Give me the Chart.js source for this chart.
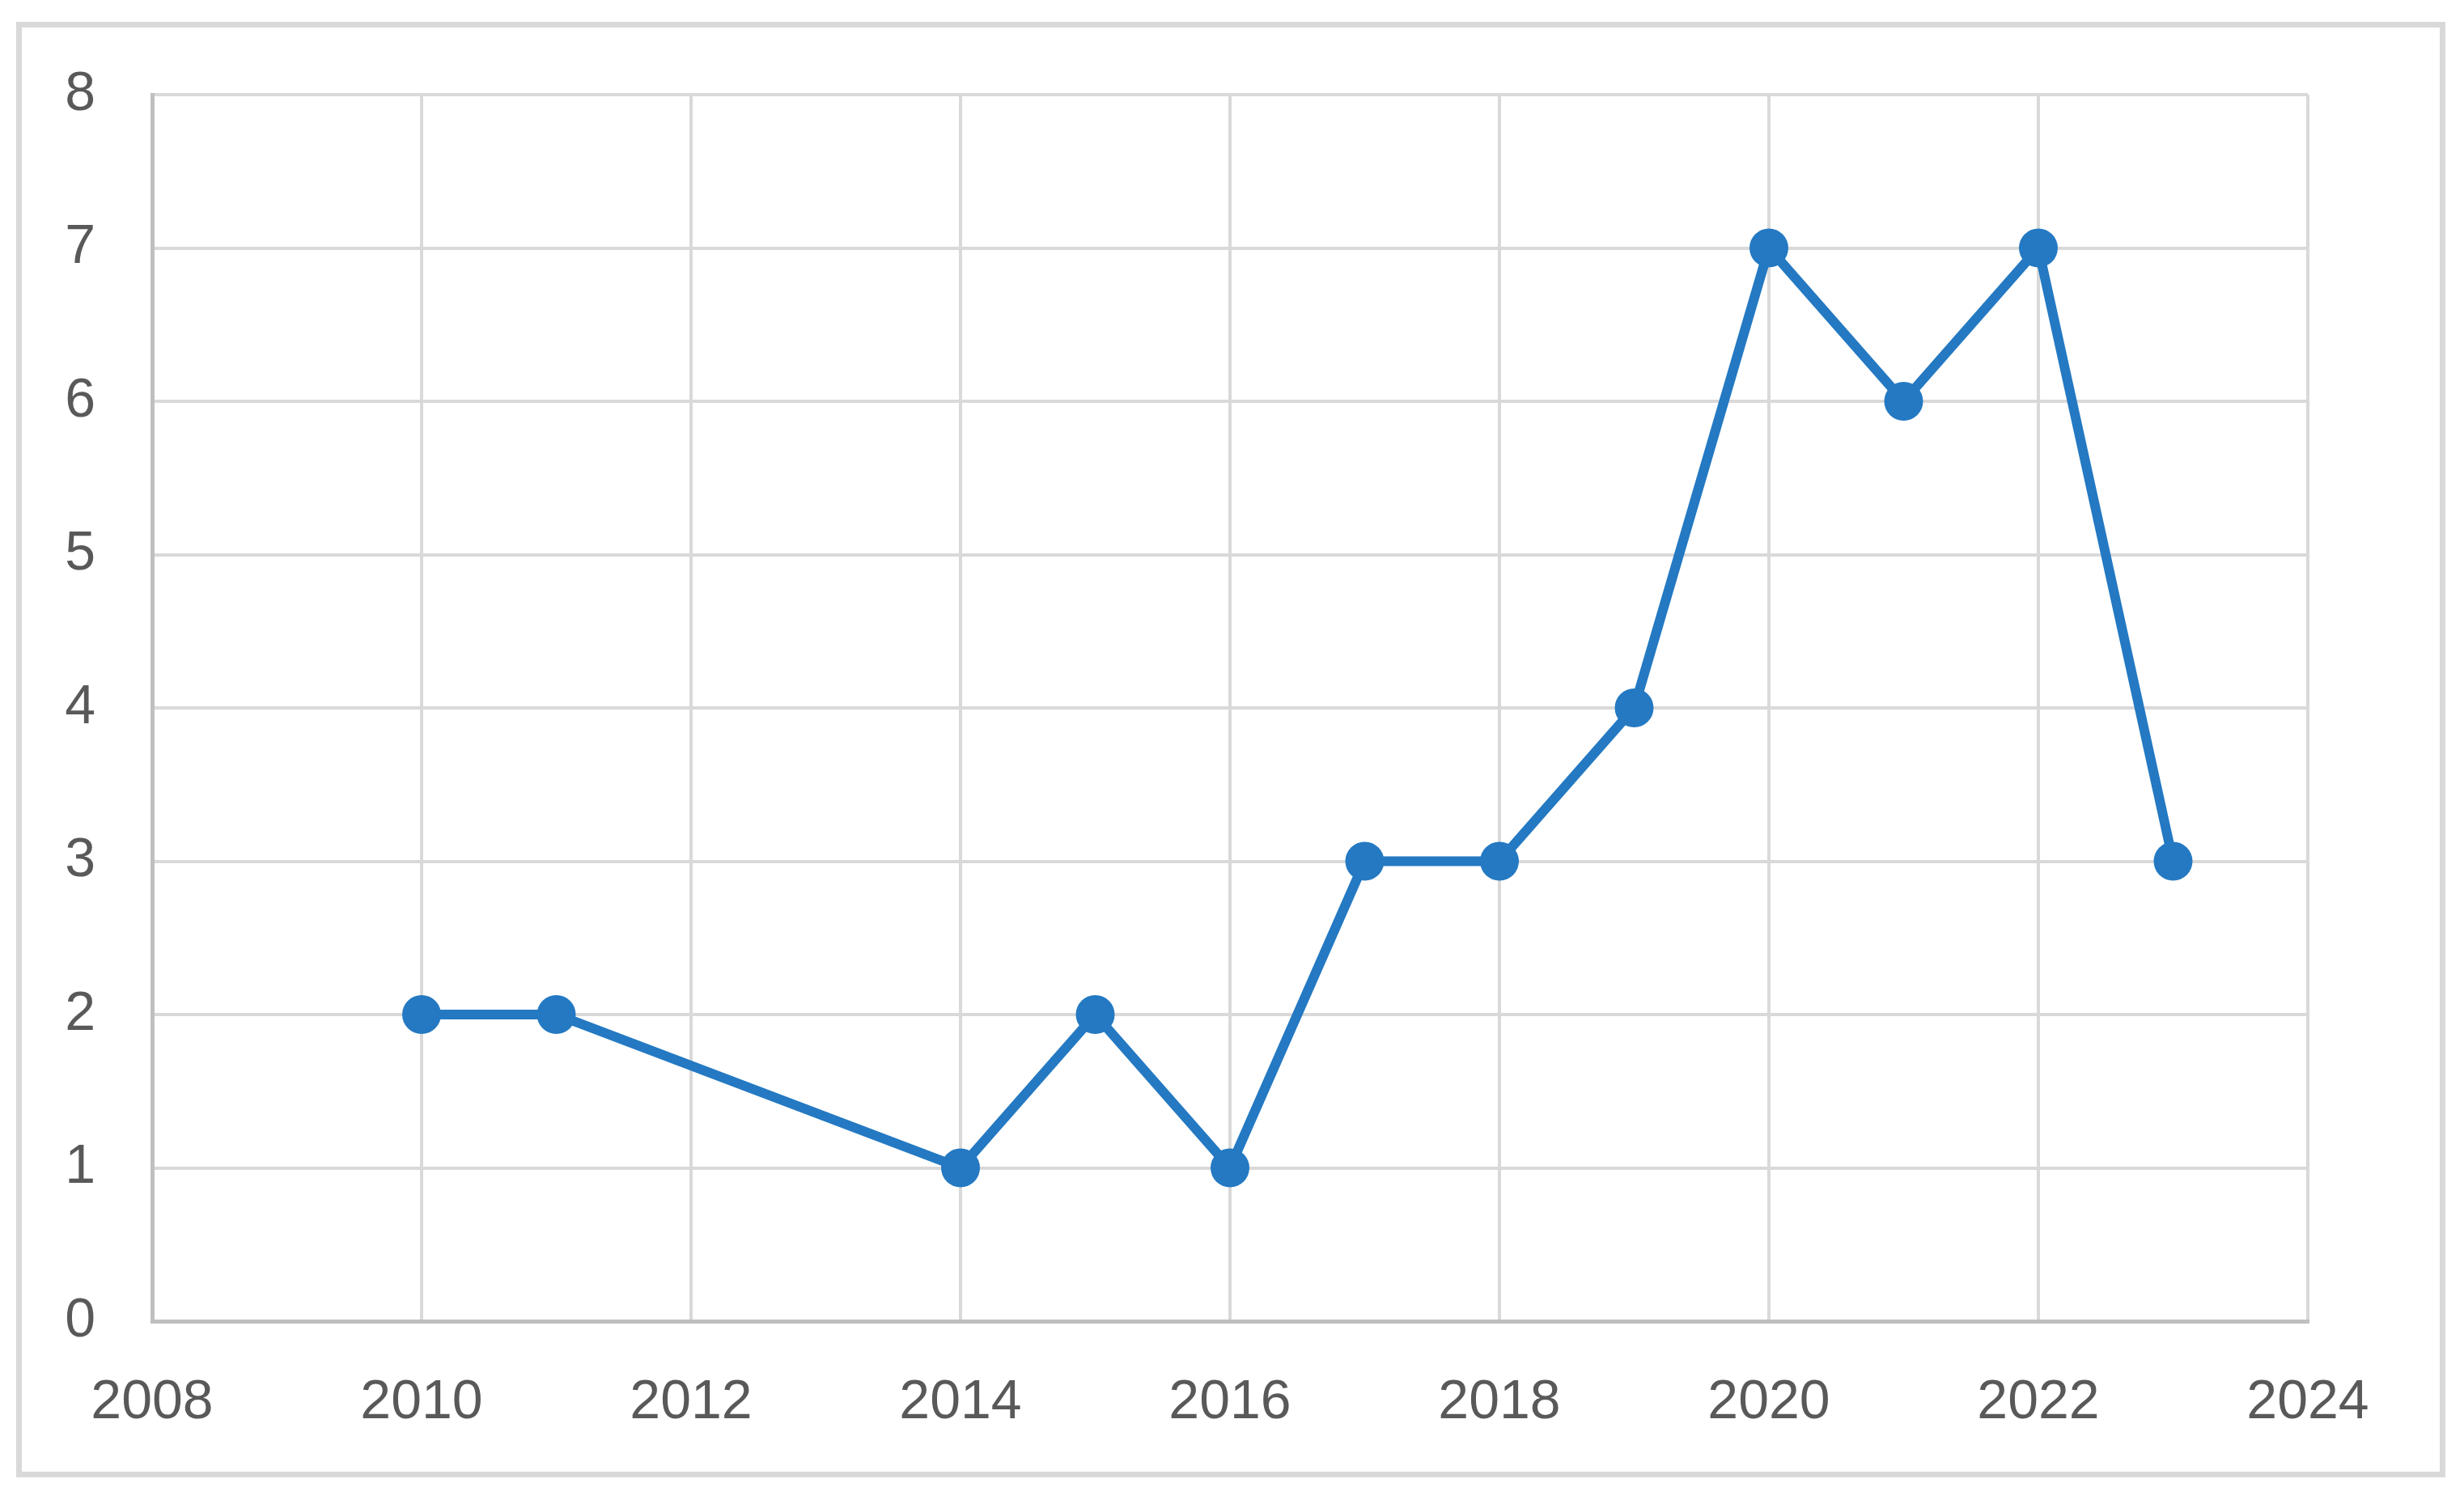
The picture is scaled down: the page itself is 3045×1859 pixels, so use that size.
<!DOCTYPE html>
<html>
<head>
<meta charset="utf-8">
<script src="https://cdn.jsdelivr.net/npm/chart.js@4.4.0/dist/chart.umd.min.js"></script>
<style>
  body { margin: 0; background: #fff; }
  #wrap { position: relative; width: 3045px; height: 1859px; }
  #frame {
    position: absolute; left: 20px; top: 27px; width: 2988px; height: 1785px;
    border: 7px solid #d9d9d9; pointer-events: none;
  }
</style>
</head>
<body>
<div id="wrap">
  <canvas id="lineChart" width="3045" height="1859"></canvas>
  <div id="frame"></div>
</div>
<script>
// data
let years = [2010, 2011, 2014, 2015, 2016, 2017, 2018, 2019, 2020, 2021, 2022, 2023];
let counts = [2, 2, 1, 2, 1, 3, 3, 4, 7, 6, 7, 3];

let xMin = 2008, xMax = 2024, xStep = 2;
let yMin = 0, yMax = 8, yStep = 1;

let lineColor = '#2479c2';
let tickFont = { family: '"Liberation Sans", Arial, sans-serif', size: 68 };

let points = [];
for (let i = 0; i < years.length; i++) {
    points.push({ x: years[i], y: counts[i] });
}

new Chart('lineChart', {
    type: 'line',
    data: {
        datasets: [{
            data: points,
            borderColor: lineColor,
            backgroundColor: lineColor,
            borderWidth: 12,
            pointRadius: 24,
            pointBorderWidth: 0,
            pointBackgroundColor: lineColor,
            tension: 0
        }]
    },
    options: {
        responsive: false,
        animation: false,
        layout: { padding: { left: 0, top: 117, right: 193, bottom: 0 } },
        plugins: {
            legend: { display: false },
            tooltip: { enabled: false }
        },
        scales: {
            x: {
                type: 'linear',
                min: xMin,
                max: xMax,
                afterFit: (scale) => { scale.height = 1859 - 1633; },
                ticks: {
                    stepSize: xStep,
                    color: '#595959',
                    font: tickFont,
                    padding: 60,
                    maxRotation: 0,
                    callback: (v) => String(v)
                },
                grid: { color: '#d9d9d9', lineWidth: 4, drawTicks: false },
                border: { color: '#bfbfbf', width: 5 }
            },
            y: {
                min: yMin,
                max: yMax,
                afterFit: (scale) => { scale.width = 188; },
                ticks: {
                    stepSize: yStep,
                    color: '#595959',
                    font: tickFont,
                    padding: 70
                },
                grid: { color: '#d9d9d9', lineWidth: 4, drawTicks: false },
                border: { color: '#bfbfbf', width: 5 }
            }
        }
    }
});
</script>
</body>
</html>
